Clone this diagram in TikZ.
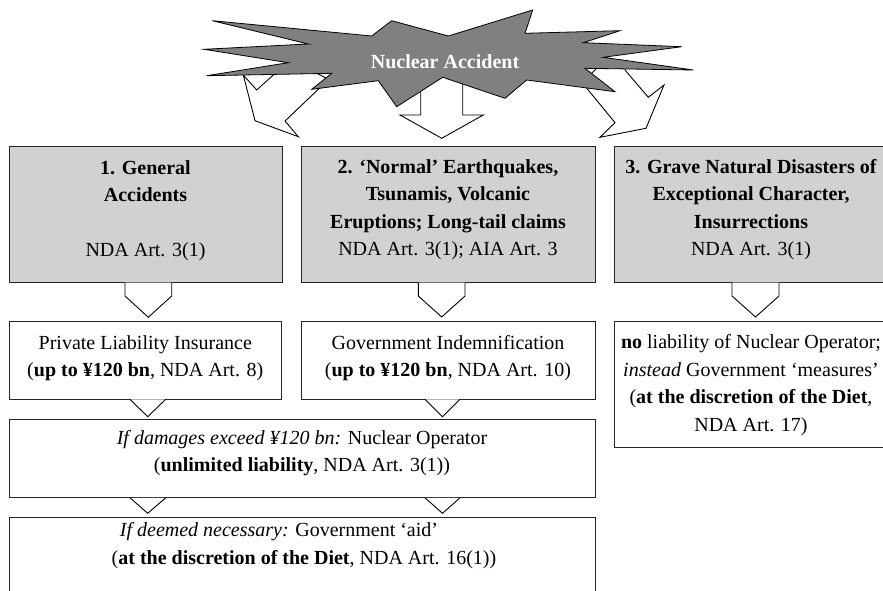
\documentclass[tikz,border=0pt]{standalone}
\usepackage{fontspec}
\setmainfont{Liberation Serif}
\usetikzlibrary{calc}
\definecolor{boxgray}{RGB}{209,209,209}
\definecolor{stargray}{RGB}{128,128,128}
\begin{document}
\begin{tikzpicture}[x=1pt,y=-1pt,
  gbox/.style={draw=black!85, line width=1pt, fill=boxgray, inner sep=0pt, outer sep=0pt, anchor=north west},
  wbox/.style={draw=black!85, line width=1pt, fill=white, inner sep=0pt, outer sep=0pt, anchor=north west},
  arrw/.style={draw=black, line width=0.9pt, fill=white, line join=miter},
  txt/.style={align=center, inner sep=0pt, font=\fontsize{20}{27.5}\selectfont}]
\useasboundingbox (0,0) rectangle (883,591);
\clip (0,0) rectangle (883,591);
\fill[white] (0,0) rectangle (883,591);
% block arrows leaving the explosion (drawn beneath it)
\path[arrw] (243.3,75) -- (255,120.7) -- (298.3,136.7) -- (285,121) -- (318.3,89.3) -- (330,80) -- (300,65) -- (273.3,70) -- (273.3,75) -- (256.7,90) -- cycle;
\path[arrw] (420.7,70) -- (420.7,115) -- (400,115) -- (441.7,138.3) -- (483.3,115) -- (462.7,115) -- (462.7,70) -- cycle;
\path[arrw] (625,70) -- (648.3,97.3) -- (664,85) -- (646,128.3) -- (600,137.3) -- (615,122.7) -- (586,87.3) -- (590,75) -- (600,65) -- (625,66) -- cycle;
% explosion
\path[draw=black, line width=0.8pt, fill=stargray, line join=miter]
  (212.3,20.7) -- (371.7,36) -- (391.7,20.7) -- (448.3,36) -- (532.7,10) -- (525,33.3) -- (620,30.7) -- (583.3,42.7) -- (681.7,46.7) -- (603.3,57.3) -- (693.3,70) -- (585,68.3) -- (615,91.7) -- (526.7,80) -- (505,98.3) -- (442.7,77.3) -- (396.7,106.7) -- (378.3,80.7) -- (311.7,89.3) -- (331.7,73.3) -- (206.7,75.7) -- (288.3,62.7) -- (204,49.3) -- (308.3,44) -- cycle;
\node[font=\bfseries\fontsize{20}{24}\selectfont, text=white, inner sep=0pt] (na) at (445,61.7) {Nuclear Accident};
% row 1
\node[gbox, minimum width=273pt, minimum height=136pt] (b1) at (9,146.7) {};
\node[gbox, minimum width=294pt, minimum height=136pt] (b2) at (301,146.7) {};
\node[gbox, minimum width=280pt, minimum height=136pt] (b3) at (614.3,146.7) {};
\node[txt] (t1) at (145.5,210.5) {\textbf{1. General}\\\textbf{Accidents}\\\mbox{}\\NDA Art. 3(1)};
\node[txt] (t2) at (448,209.8) {\textbf{2. ‘Normal’ Earthquakes,}\\\textbf{Tsunamis, Volcanic}\\\textbf{Eruptions; Long-tail claims}\\NDA Art. 3(1); AIA Art. 3};
\node[txt] (t3) at (751,209.8) {\textbf{3. Grave Natural Disasters of}\\\textbf{Exceptional Character,}\\\textbf{Insurrections}\\NDA Art. 3(1)};
% row 2
\node[wbox, minimum width=272.7pt, minimum height=77.6pt] (r1) at (9,321.7) {};
\node[wbox, minimum width=294pt, minimum height=77.6pt] (r2) at (301,321.7) {};
\node[wbox, minimum width=280pt, minimum height=125.3pt] (r3) at (614.3,321.7) {};
\node[txt] (u1) at (145.3,358.3) {Private Liability Insurance\\(\textbf{up to ¥120 bn}, NDA Art. 8)};
\node[txt] (u2) at (448,358.3) {Government Indemnification\\(\textbf{up to ¥120 bn}, NDA Art. 10)};
\node[txt] (u3) at (751,385.2) {\textbf{no} liability of Nuclear Operator;\\\textit{instead} Government ‘measures’\\(\textbf{at the discretion of the Diet},\\NDA Art. 17)};
% row 3 and 4
\node[wbox, minimum width=586pt, minimum height=78.5pt] (s) at (9,419.3) {};
\node[txt] (st) at (302,453.3) {\textit{If damages exceed ¥120 bn:} Nuclear Operator\\(\textbf{unlimited liability}, NDA Art. 3(1))};
\node[wbox, minimum width=586pt, minimum height=100pt] (w) at (9,517.3) {};
\node[txt] (wt) at (304,545.5) {\textit{If deemed necessary:} Government ‘aid’\hspace*{50pt}\\(\textbf{at the discretion of the Diet}, NDA Art. 16(1))};
% pentagon arrows row 1 -> row 2
\path[arrw] ($(b1.south west)+(116,0)$) -- ($(b1.south west)+(116,13.3)$) -- ($(b1.south west)+(139.3,34.6)$) -- ($(b1.south west)+(162.7,13.3)$) -- ($(b1.south west)+(162.7,0)$);
\path[arrw] ($(b2.south west)+(117.3,0)$) -- ($(b2.south west)+(117.3,13.3)$) -- ($(b2.south west)+(140.7,34.3)$) -- ($(b2.south west)+(164,13.3)$) -- ($(b2.south west)+(164,0)$);
\path[arrw] ($(b3.south west)+(117.7,0)$) -- ($(b3.south west)+(117.7,13.3)$) -- ($(b3.south west)+(141.2,34.3)$) -- ($(b3.south west)+(164.7,13.3)$) -- ($(b3.south west)+(164.7,0)$);
% triangles row 2 -> row 3
\path[arrw] ($(r1.south west)+(121,0)$) -- ($(r1.south west)+(138.7,17.4)$) -- ($(r1.south west)+(156.7,0)$);
\path[arrw] ($(r2.south west)+(124,0)$) -- ($(r2.south west)+(141.5,17.4)$) -- ($(r2.south west)+(159,0)$);
% triangles row 3 -> row 4
\path[arrw] ($(s.south west)+(121,0)$) -- ($(s.south west)+(138.7,15.5)$) -- ($(s.south west)+(156.7,0)$);
\path[arrw] ($(s.south west)+(416,0)$) -- ($(s.south west)+(433.5,15.5)$) -- ($(s.south west)+(451,0)$);
\end{tikzpicture}
\end{document}
